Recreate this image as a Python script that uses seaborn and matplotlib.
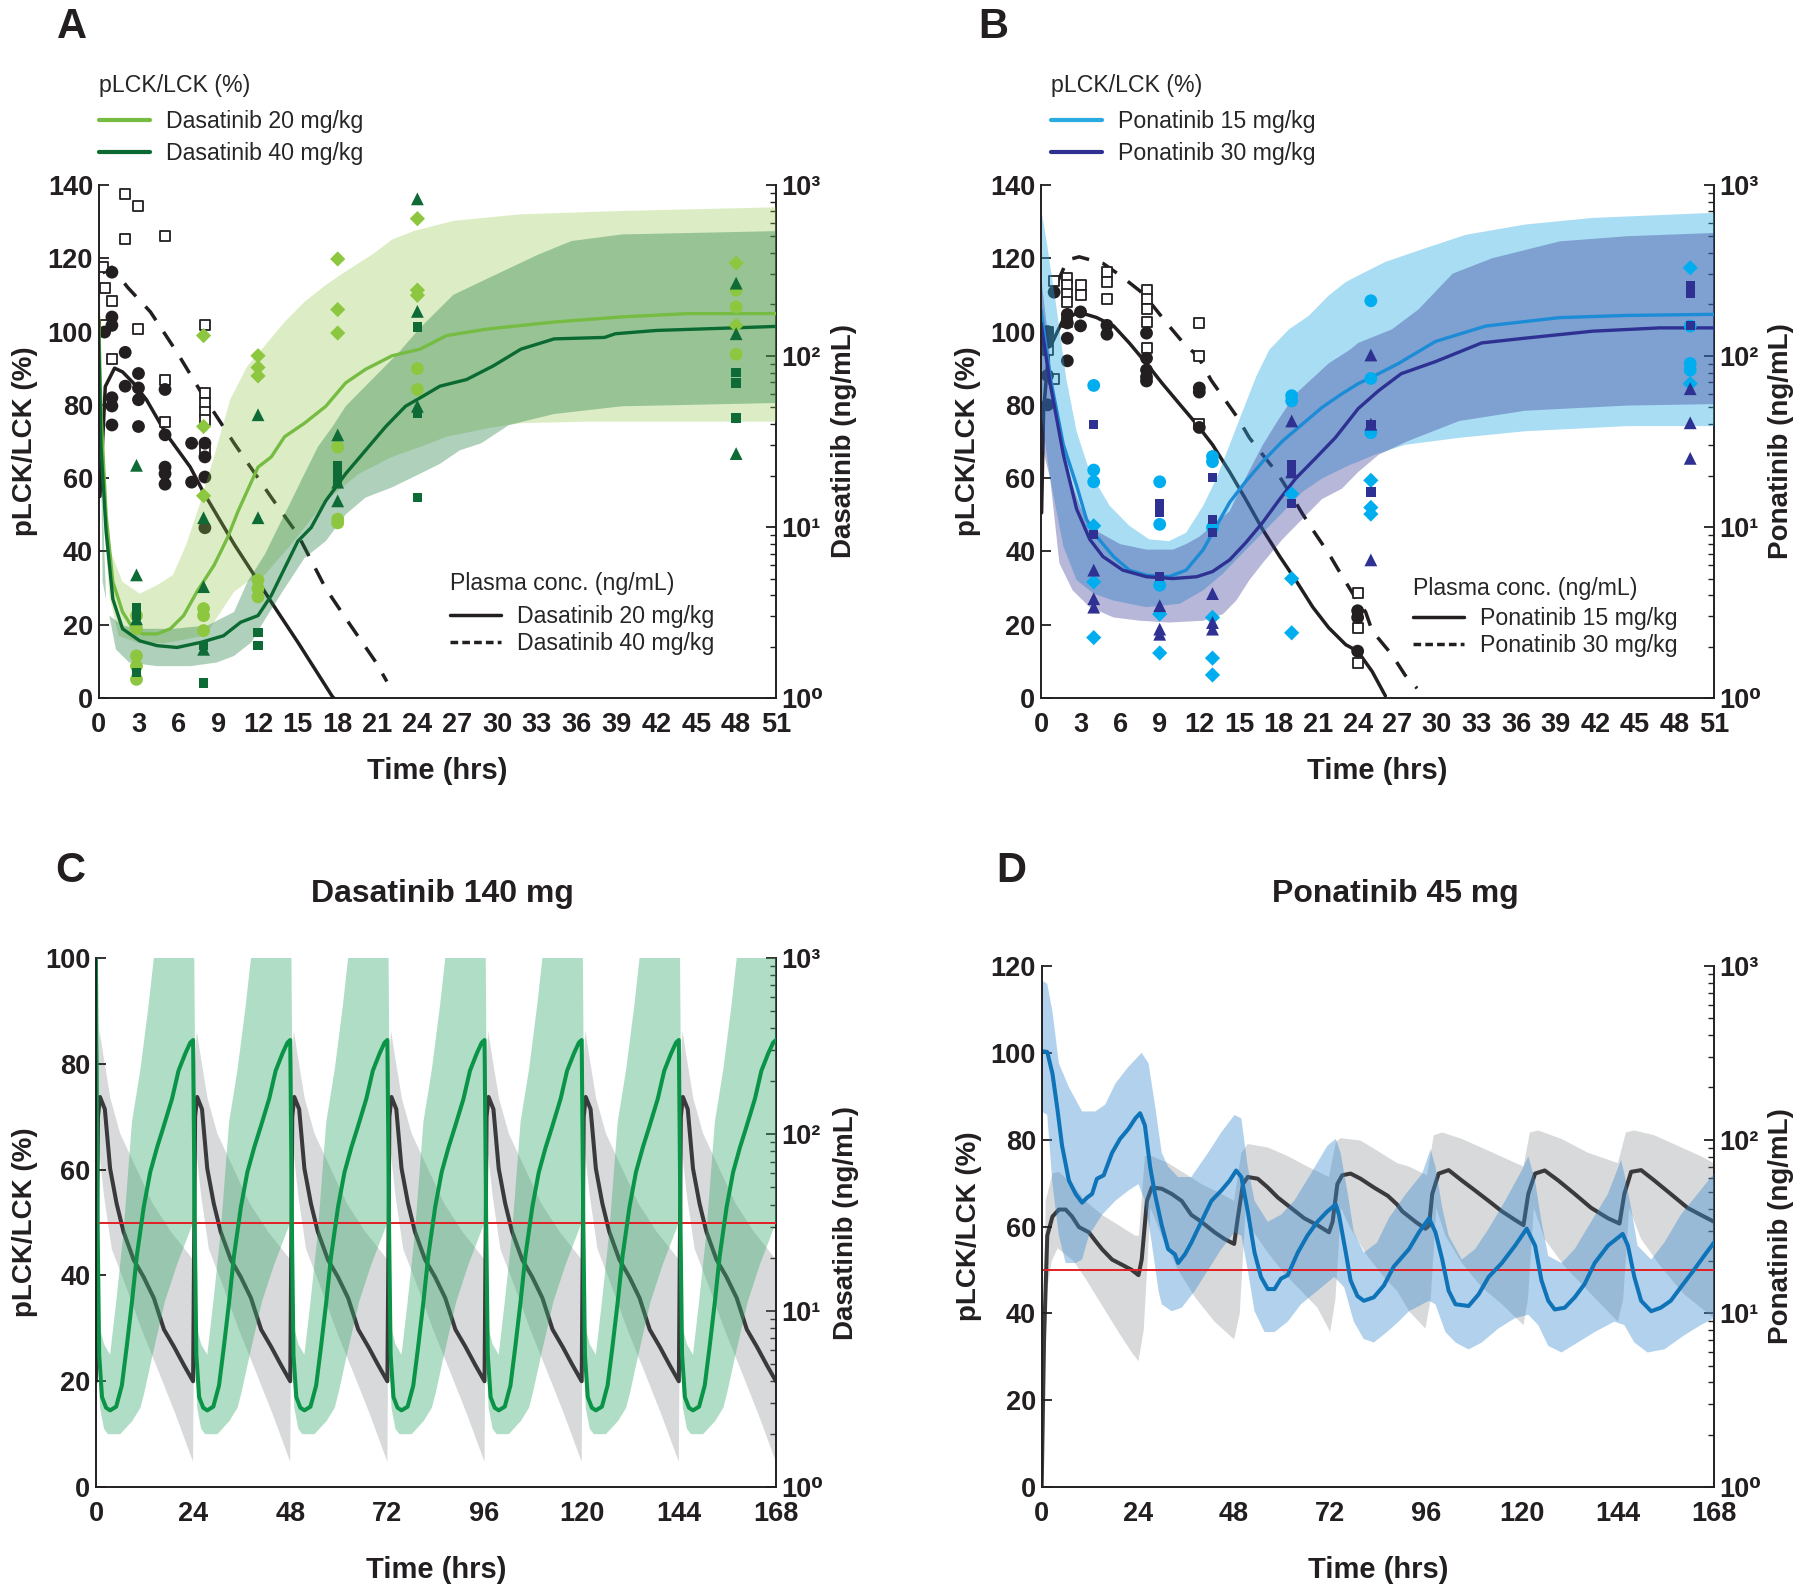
import numpy as np
import matplotlib
matplotlib.use("Agg")
import matplotlib.pyplot as plt
from matplotlib.lines import Line2D
from matplotlib.ticker import LogLocator, NullFormatter
import seaborn as sns

# ---------------- Panel A : dasatinib (mouse) ----------------
# pLCK/LCK (%) model median and 90% band, 20 mg/kg
a_line20_t = [0, 0.18, 0.56, 1.07, 1.8, 2.6, 3.35, 4.4, 5.4, 6.4, 7.4, 8.7, 9.7, 10.5, 11.2, 12.0,
              13.0, 14.0, 15.5, 17.1, 18.6, 20.1, 22.1, 24.2, 26.2, 29.3, 34.3, 39.4, 44.4, 51]
a_line20 = [104, 77.7, 50, 31.7, 23.5, 18.9, 17.5, 17.5, 18.9, 22.5, 29, 36.3, 43.7, 51, 56.6, 63,
            65.8, 71.3, 75, 79.6, 86, 89.7, 93.4, 95.2, 98.9, 100.7, 102.6, 104, 104.9, 104.9]
a_hi20_t = [0, 0.3, 0.8, 1.8, 3.1, 4.4, 5.6, 6.6, 7.7, 8.9, 9.9, 11.2, 12.5, 14.0, 15.5, 17.1,
            18.6, 20.6, 22.1, 23.7, 26.7, 31.8, 39.4, 51]
a_hi20 = [138, 59, 41, 31.7, 28.5, 30.8, 33.6, 41.9, 53.8, 68.5, 81.4, 90.6, 96.1, 102.6, 108.1,
          112.7, 116.4, 121, 125.1, 127.4, 130.2, 132, 132.9, 133.9]
a_lo20_t = [0, 0.3, 0.8, 1.5, 3.0, 5.0, 8.0, 10.2, 11.2, 12.5, 14.5, 17.1, 19.6, 22.1, 24.2, 26.2,
            29.3, 31.8, 36.8, 51]
a_lo20 = [92, 55, 28, 17, 15, 15, 17, 29, 31.7, 33.6, 41.9, 53.8, 61.2, 65.8, 68.5, 71.3, 73.6,
          75, 75.4, 75.4]
# 40 mg/kg
a_line40_t = [0, 0.18, 0.56, 1.07, 1.8, 3.1, 4.4, 5.9, 7.7, 9.4, 10.7, 12.0, 13.0, 14.0, 15.0, 16.0,
              17.1, 18.6, 20.1, 21.6, 23.1, 24.2, 25.7, 27.7, 29.7, 31.8, 34.3, 38.1, 38.9, 42.0,
              47.0, 51]
a_line40 = [100, 68.5, 45.5, 27, 18.9, 15.6, 14.3, 13.8, 15.2, 17, 20.7, 22.5, 28, 35.4, 42.8, 46.5,
            53.8, 61.2, 67.6, 74, 79.6, 81.9, 85.1, 86.9, 90.6, 95.2, 98, 98.4, 99.4, 100.3,
            100.9, 101.4]
a_hi40_t = [0, 0.3, 0.8, 1.8, 3.1, 5.6, 8.2, 10.2, 11.2, 12.5, 13.5, 14.5, 15.5, 16.5, 17.6, 18.6,
            19.6, 21.1, 22.6, 24.2, 26.7, 29.3, 33.1, 35.6, 39.4, 51]
a_hi40 = [118, 31.7, 22.5, 19.8, 18.9, 18.9, 19.8, 23.5, 31.7, 39.1, 46.5, 53.8, 61.2, 68.5, 74,
          79.6, 83.3, 88.8, 94.3, 101, 110, 114.5, 121, 124.7, 126.5, 127.4]
a_lo40_t = [0, 0.56, 1.3, 2.3, 4.4, 6.9, 8.9, 10.2, 11.5, 12.7, 14.0, 15.5, 17.1, 18.6, 20.1, 22.1,
            24.2, 25.7, 27.2, 28.8, 30.9, 34.3, 39.4, 51]
a_lo40 = [85, 27, 13.3, 9.7, 8.7, 8.7, 9.7, 11.5, 15.2, 22.5, 29.9, 38.2, 42.8, 50.1, 54.7, 57.5,
          61.2, 63.9, 67.6, 69.5, 74.5, 77.5, 79.6, 80.5]
# observed pLCK/LCK (%)
a_dia20_t = [7.9, 7.9, 7.9, 12, 12, 12, 18, 18, 18, 24, 24, 24, 48, 48]
a_dia20 = [98.9, 74.1, 55.2, 93.4, 90.2, 87.9, 119.8, 106, 99.6, 130.8, 111.3, 109.9, 118.7, 101.7]
a_cir20_t = [2.85, 2.85, 2.85, 2.85, 2.85, 7.9, 7.9, 7.9, 12, 12, 12, 18, 18, 18, 24, 24, 48, 48, 48]
a_cir20 = [22.5, 18.9, 11.5, 8.7, 5.1, 24.4, 22.5, 18.4, 32.2, 29.9, 27.6, 68.5, 48.8, 47.8,
           89.9, 84.2, 111.3, 106.7, 93.8]
a_tri40_t = [2.85, 2.85, 2.85, 7.9, 7.9, 7.9, 12, 12, 18, 18, 18, 24, 24, 24, 48, 48, 48]
a_tri40 = [63.5, 33.6, 21.6, 49.2, 30.4, 13.3, 77.3, 49.2, 71.8, 58.9, 53.8, 136.2, 105.5, 79.6,
           113.2, 99.4, 66.7]
a_sq40_t = [2.85, 2.85, 2.85, 7.9, 7.9, 12, 12, 18, 18, 18, 24, 24, 24, 48, 48, 48]
a_sq40 = [24.8, 22.5, 6.9, 14.3, 4.1, 17.9, 14.3, 63.5, 61.2, 58.9, 101.2, 77.7, 54.7, 88.8, 86,
          76.4]
# plasma concentration (ng/mL)
a_pk20_t = [0.1, 0.5, 1.2, 1.8, 2.6, 3.6, 5.1, 6.9, 7.9, 10.2, 11.7, 13.0, 15.0, 17.6, 18.0]
a_pk20 = [15.1, 66.3, 84.9, 80.7, 69.7, 55.5, 34.9, 22.4, 15.9, 7.94, 5.25, 3.64, 2.12, 1.02, 0.95]
a_pk40_t = [0.3, 1.0, 2.2, 3.9, 5.9, 7.9, 10.2, 13.0, 15.0, 17.1, 18.8, 20.9, 21.7]
a_pk40 = [306, 330, 251, 181, 105, 58.1, 30.9, 14.9, 9.03, 4.37, 2.78, 1.61, 1.25]
a_obs40_t = [2, 3, 2, 5, 0.35, 0.45, 1, 0.45, 3, 1, 5, 5, 8, 8, 8, 8, 8, 8]
a_obs40 = [884, 755, 480, 501, 330, 249, 209, 152, 143, 96, 72, 41, 152, 61, 53, 47, 42, 28]
a_obs20_t = [1, 1, 1, 0.45, 2, 3, 3, 3, 3, 2, 1, 1, 1, 5, 5, 5, 5, 5, 7, 7, 8, 8, 8, 8]
a_obs20 = [309, 169, 151, 138, 105, 79, 65, 55.5, 38.7, 66.6, 57, 51, 39.5, 63.7, 34.6, 22.4,
           20.5, 17.8, 30.9, 18.3, 30.9, 25.7, 19.6, 9.9]

# ---------------- Panel B : ponatinib (mouse) ----------------
b_line15_t = [0, 0.7, 1.7, 2.7, 3.45, 4.2, 5.5, 6.7, 8.0, 9.7, 11.0, 12.3, 13.3, 14.3, 15.5, 16.8,
              18.3, 19.8, 21.3, 22.8, 24.05, 25.1, 27.1, 29.9, 33.7, 39.3, 44.4, 51]
b_line15 = [106, 87.6, 69.1, 58, 48.8, 44.2, 38.6, 34.9, 33.5, 33.1, 34.9, 40.5, 47, 53.4, 59, 64.5,
            70.1, 74.7, 79.3, 83, 85.8, 87.6, 91.3, 97.3, 101.5, 103.8, 104.4, 104.7]
b_hi15_t = [0, 0.43, 1.2, 1.9, 2.7, 3.7, 5.2, 6.7, 8.2, 9.7, 11.0, 12.3, 13.3, 14.3, 15.3, 16.3,
            17.3, 18.8, 20.3, 21.8, 23.1, 24.05, 26.1, 29.1, 32.2, 36.7, 41.8, 51]
b_hi15 = [133.8, 124.6, 106, 87.6, 72.8, 61.7, 52.5, 47, 43.3, 42.8, 45.1, 52.5, 59.9, 69.1, 78.4,
          87.6, 95, 100.6, 104.3, 109.8, 113.5, 115.3, 119, 122.7, 126.4, 129.2, 131, 132.4]
b_lo15_t = [0, 0.7, 1.7, 2.7, 4.0, 5.5, 8.0, 10.5, 12.3, 13.8, 15.3, 16.8, 18.3, 19.8, 21.3, 23.4,
            24.05, 25.3, 27.6, 31.7, 36.7, 44.4, 51]
b_lo15 = [78.4, 59.9, 41.4, 32.2, 28.5, 26.6, 24.8, 25.7, 29.4, 34, 39.6, 45.1, 50.6, 56.2, 59.9,
          63.6, 64.5, 66.4, 69.1, 71, 72.8, 74.2, 74.2]
b_line30_t = [0, 0.7, 1.7, 2.7, 3.7, 4.7, 6.2, 8.0, 10.0, 11.8, 13.0, 14.3, 15.5, 16.8, 18.1, 19.3,
              20.8, 22.3, 24.05, 25.6, 27.3, 29.9, 33.4, 36.7, 41.8, 46.9, 51]
b_line30 = [102.4, 85.8, 66.4, 51.6, 43.3, 38.6, 34.9, 33.1, 32.6, 33.1, 34.5, 37.7, 42.3, 47.9,
            54.3, 59.9, 65.4, 71, 79, 83.9, 88.5, 91.8, 96.9, 98.2, 100.1, 101, 101]
b_hi30_t = [0, 0.5, 1.0, 2.0, 3.0, 4.0, 6.0, 8.0, 10.0, 11.0, 12.0, 13.0, 14.3, 15.5, 16.8, 18.0,
            19.3, 21.8, 23.4, 24.05, 26.6, 28.6, 31.2, 34.2, 39.3, 44.4, 51]
b_hi30 = [115, 100, 80, 62, 52, 46, 42, 40.5, 40.5, 42, 44, 47, 51, 60, 69, 76, 83, 91.3, 95, 96.9,
          100.6, 106, 115.8, 120, 124.6, 126, 126.9]
b_lo30_t = [0, 0.7, 1.4, 2.4, 3.7, 5.5, 7.5, 9.7, 12.3, 13.8, 14.8, 15.8, 16.8, 18.3, 19.8, 21.3,
            22.8, 24.05, 25.6, 27.8, 31.7, 36.7, 44.4, 51]
b_lo30 = [70, 59.9, 36.8, 29.4, 24.8, 22, 21.1, 20.6, 21.1, 22.9, 26.6, 32.2, 36.8, 43.3, 48.8,
          54.3, 57.1, 61.7, 66.4, 70.1, 75.6, 78.4, 79.8, 80.2]
b_cir15_t = [4, 4, 4, 9, 9, 9, 13, 13, 13, 19, 19, 25, 25, 25, 49.2, 49.2, 49.2]
b_cir15 = [85.3, 62.2, 59, 59, 47.4, 30.8, 65.9, 64.5, 46.5, 82.5, 81.1, 108.4, 87.2, 72.4, 101.5,
           91.3, 89.5]
b_dia15_t = [4, 4, 4, 9, 9, 13, 13, 13, 19, 19, 19, 25, 25, 25, 49.2, 49.2]
b_dia15 = [47, 31.7, 16.5, 22.9, 12.3, 22, 10.9, 6.3, 55.7, 32.6, 17.8, 59.4, 52, 50.2, 117.4, 85.8]
b_sq30_t = [4, 4, 9, 9, 9, 13, 13, 13, 19, 19, 19, 25, 25, 49.2, 49.2, 49.2]
b_sq30 = [74.7, 44.6, 53, 50.6, 33.1, 60.1, 48.8, 45.1, 63.6, 61.7, 53, 74.7, 56.2, 112.6, 110.3,
          101.7]
b_tri30_t = [4, 4, 4, 9, 9, 9, 13, 13, 13, 19, 19, 25, 25, 25, 49.2, 49.2, 49.2]
b_tri30 = [34.9, 27.1, 24.8, 25.2, 18.8, 17.4, 28.5, 20.6, 18.8, 75.6, 61.7, 93.6, 74.7, 37.7, 84.4,
           75.1, 65.4]
b_pk15_t = [0.05, 0.2, 0.6, 1.7, 2.9, 4.2, 5.5, 6.7, 8.0, 9.2, 10.5, 11.8, 13.0, 14.3, 15.5, 16.8,
            18.1, 19.3, 20.6, 21.8, 23.1, 24.0, 25.1, 26.1]
b_pk15 = [12.1, 47.9, 109, 164, 180, 168, 150, 119, 90.4, 69, 52.4, 39.9, 30.3, 21, 14.6, 9.68,
          6.72, 4.9, 3.4, 2.58, 2.05, 1.88, 1.43, 1.03]
b_pk30_t = [1.2, 2.0, 2.9, 4.7, 6.0, 7.5, 8.5, 9.7, 10.8, 11.9, 12.9, 14.0, 14.9, 15.8, 16.8, 17.9,
            18.9, 19.8, 20.8, 21.8, 22.7, 23.7, 24.6, 25.1, 26.6, 27.6, 28.5]
b_pk30 = [264, 364, 380, 348, 296, 240, 196, 150, 119, 99.4, 72.1, 54.7, 43.6, 33.2, 26.5, 20.7,
          15.7, 12, 9.12, 7.02, 5.35, 4.0, 3.19, 2.47, 1.79, 1.36, 1.14]
b_obs30_t = [1, 2, 2, 2, 2, 2, 3, 3, 5, 5, 5, 8, 8, 8, 8, 8, 12, 12, 12, 24, 24, 24, 0.5, 0.5, 1]
b_obs30 = [273, 286, 259, 231, 207, 159, 259, 228, 311, 271, 216, 244, 216, 188, 159, 112, 155,
           99.8, 39.9, 4.12, 2.58, 1.6, 139, 109, 73.2]
b_obs15_t = [1, 2, 2, 2, 2, 3, 3, 5, 5, 8, 8, 8, 8, 8, 12, 12, 12, 24, 24, 24, 0.5, 0.5, 0.5, 0.5]
b_obs15 = [236, 175, 156, 127, 93.7, 181, 150, 151, 134, 136, 97, 82.8, 75.4, 71.4, 65, 61.5, 38.2,
           3.24, 2.96, 1.88, 139, 120, 76.9, 51.8]

# ---------------- Panel C : dasatinib 140 mg once daily ----------------
c_doses = [0, 24, 48, 72, 96, 120, 144]
c_green_start = 100.0
# one daily cycle (hours after dose) - identical for every day in the figure
c_h_green = [0, 0.4, 0.8, 1.5, 2.5, 3.5, 5.0, 6.4, 7.6, 8.9, 10.1, 11.8, 13.4, 15.1, 16.7, 18.8,
             20.4, 22.1, 23.3, 24.0]
c_green = [84.5, 50, 25, 17, 15, 14.5, 15.2, 19.2, 26.5, 35, 43.7, 52.9, 59.5, 64.2, 68.1, 73.4,
           78.7, 82, 84, 84.5]
c_h_ghi = [0, 0.6, 1.0, 2.0, 3.5, 5.0, 6.8, 8.9, 11.0, 13.0, 14.3, 24.0]
c_ghi = [130, 69, 30, 27, 25, 35, 48, 69, 79, 91, 100, 130]
c_h_glo = [0, 0.4, 1.0, 2.0, 3.0, 6.0, 9.0, 11.0, 12.0, 14.0, 17.0, 20.0, 22.0, 24.0]
c_glo = [50, 30, 15, 11, 10, 10, 12.5, 15, 18, 25, 35, 42, 46, 50]
c_h_pk = [0, 0.5, 1.0, 2.2, 3.5, 5.1, 6.8, 9.3, 11.8, 14.3, 16.8, 19.3, 21.7, 24.0]
c_pk = [3.98, 126, 163, 139, 64, 40.6, 28.1, 19.5, 15.5, 11.8, 7.83, 6.24, 4.93, 3.98]
c_h_pkhi = [0, 0.3, 0.9, 1.9, 3.6, 6.0, 10.0, 14.0, 18.5, 24.0]
c_pkhi = [19.5, 219, 388, 275, 159, 101, 64, 40.6, 28.1, 19.5]
c_h_pklo = [0, 0.3, 0.9, 2.0, 3.9, 7.2, 11.3, 15.5, 19.6, 24.0]
c_pklo = [1.39, 15.8, 76.6, 44.7, 22.4, 14.2, 7.83, 4.51, 2.61, 1.39]

# ---------------- Panel D : ponatinib 45 mg once daily ----------------
d_blue_t = [0.0, 1.4, 2.7, 3.9, 5.1, 6.8, 8.5, 10.1, 11.4, 12.6, 13.8, 15.5, 17.6, 19.6, 21.7, 23.4,
            24.6, 25.8, 27.1, 28.3, 30.0, 31.6, 33.3, 34.1, 35.8, 37.4, 39.9, 42.4, 44.9, 47.0,
            48.6, 49.9, 51.5, 53.2, 54.8, 56.5, 58.2, 59.8, 61.5, 64.0, 66.4, 68.9, 71.4, 73.5,
            74.3, 76.0, 77.2, 78.9, 80.5, 83.0, 85.5, 88.0, 91.8, 94.3, 96.8, 98.4, 100.1, 101.7,
            103.4, 106.7, 109.2, 111.7, 115.0, 118.3, 121.2, 123.3, 124.9, 126.6, 128.2, 130.7,
            133.2, 135.7, 138.2, 141.5, 145.2, 146.5, 148.1, 149.8, 152.3, 154.7, 157.2, 159.7,
            163.0, 165.5, 168.0]
d_blue = [100.4, 100.2, 95.2, 87.3, 78.6, 70.6, 67.5, 65.5, 66.7, 67.5, 71.0, 71.8, 77.0, 80.2,
          82.5, 84.9, 86.1, 83.3, 73.8, 67.5, 60.3, 54.8, 53.6, 51.6, 53.6, 56.3, 61.1, 65.9, 68.3,
          70.6, 72.9, 71.4, 63.5, 54.0, 48.4, 45.6, 45.6, 48.0, 48.8, 54.0, 57.9, 61.1, 63.5, 65.1,
          62.7, 54.0, 47.6, 44.0, 42.9, 43.7, 46.4, 50.8, 54.8, 58.7, 61.9, 58.7, 52.4, 45.2, 42.1,
          41.7, 44.4, 48.4, 51.6, 55.6, 59.5, 55.6, 47.6, 42.9, 40.9, 41.3, 43.7, 46.8, 51.6, 55.6,
          58.3, 55.6, 48.4, 42.9, 40.5, 41.3, 42.9, 46.0, 50.0, 53.2, 56.3]
d_bhi_t = [0.0, 1.4, 2.7, 4.3, 6.8, 10.1, 13.4, 15.9, 18.4, 21.7, 25.0, 26.7, 28.3, 30.0, 31.6,
           34.1, 37.4, 41.6, 44.9, 48.2, 49.9, 51.5, 53.2, 56.5, 59.8, 63.1, 67.3, 71.4, 73.5,
           74.7, 76.8, 78.0, 80.5, 83.8, 86.8, 91.0, 95.1, 97.2, 98.4, 100.1, 101.7, 105.0, 108.3,
           111.7, 115.8, 120.0, 121.6, 123.3, 124.9, 126.6, 129.9, 133.2, 137.3, 141.5, 144.8,
           145.6, 147.3, 148.9, 152.3, 155.6, 159.7, 163.9, 168.0]
d_bhi = [116.7, 115.9, 109.5, 97.6, 92.1, 86.5, 86.5, 88.1, 92.9, 96.8, 100.0, 97.6, 88.1, 77.0,
         73.8, 71.4, 71.4, 77.0, 81.7, 85.7, 84.9, 73.8, 65.9, 61.1, 62.7, 65.9, 72.2, 78.6, 80.2,
         77.0, 65.9, 58.7, 54.0, 56.3, 62.0, 67.5, 72.2, 77.8, 73.8, 64.3, 57.9, 52.4, 54.8, 59.5,
         65.9, 73.0, 76.2, 70.6, 61.1, 53.2, 51.6, 54.8, 61.1, 67.5, 75.4, 72.2, 64.3, 55.6, 52.4,
         56.3, 62.7, 67.5, 72.2]
d_blo_t = [0.0, 1.4, 2.7, 4.3, 6.0, 8.5, 10.1, 11.8, 15.1, 18.4, 21.7, 24.2, 25.8, 27.5, 29.2,
           30.0, 32.5, 35.0, 38.3, 41.6, 44.9, 48.2, 49.9, 51.5, 53.2, 55.7, 58.2, 61.5, 64.8,
           68.9, 73.1, 75.6, 78.0, 80.5, 83.0, 86.3, 89.2, 91.8, 96.8, 98.4, 100.9, 103.4, 106.7,
           110.0, 114.1, 118.3, 121.6, 124.1, 126.6, 129.9, 134.0, 138.2, 143.1, 145.6, 148.1,
           151.4, 155.6, 160.5, 164.7, 168.0]
d_blo = [86.5, 85.7, 69.8, 57.9, 51.6, 51.6, 52.4, 57.9, 62.7, 65.9, 68.3, 69.8, 65.9, 56.3, 45.2,
         42.1, 40.5, 41.3, 45.2, 50.0, 54.8, 58.7, 57.9, 50.0, 40.5, 35.7, 35.7, 38.1, 42.1, 45.2,
         48.4, 46.0, 38.1, 34.1, 33.3, 35.7, 38.1, 40.5, 42.9, 42.1, 35.7, 33.3, 31.7, 33.3, 36.5,
         38.9, 39.7, 37.3, 32.5, 31.0, 33.3, 35.7, 38.1, 37.3, 33.3, 31.0, 31.7, 34.9, 37.3, 38.9]
d_pk_t = [0.0, 0.6, 1.4, 2.7, 4.3, 6.0, 7.6, 9.3, 11.8, 13.4, 15.1, 17.6, 20.0, 22.5, 24.2, 25.0,
          26.3, 27.5, 30.0, 32.5, 35.0, 37.4, 39.9, 43.2, 45.7, 48.1, 49.0, 50.3, 51.5, 54.0, 56.5,
          59.0, 62.3, 65.6, 68.9, 71.8, 72.7, 73.9, 75.1, 77.2, 79.7, 83.0, 86.5, 88.8, 90.1, 93.4,
          95.9, 96.8, 97.6, 99.2, 101.7, 105.0, 108.3, 111.7, 115.0, 118.3, 120.4, 121.6, 123.3,
          125.7, 129.1, 133.2, 137.3, 141.5, 144.4, 145.6, 147.3, 149.8, 153.1, 157.2, 161.4,
          164.7, 168.0]
d_pk = [1.0, 7.08, 28.0, 36.1, 39.6, 39.6, 36.1, 31.4, 29.3, 26.2, 23.4, 20.4, 19.1, 17.8, 16.6,
        20.4, 44.4, 53.1, 52.2, 48.7, 44.4, 36.9, 33.7, 29.3, 26.8, 25.1, 35.3, 55.6, 61.0, 59.6,
        53.1, 46.5, 40.5, 35.3, 32.2, 29.3, 33.7, 55.6, 62.4, 63.8, 59.6, 53.1, 47.5, 42.4, 38.7,
        33.7, 30.7, 32.0, 48.7, 63.8, 66.8, 58.2, 51.0, 44.4, 38.7, 34.5, 32.2, 48.7, 63.8, 66.5,
        58.2, 48.7, 40.5, 35.3, 32.9, 48.7, 65.3, 66.8, 58.2, 48.7, 40.5, 36.9, 33.7]
d_pkhi_t = [0.0, 1.0, 2.7, 4.3, 7.6, 10.9, 15.1, 19.2, 23.4, 24.3, 25.8, 27.5, 31.6, 35.8, 39.9,
            44.9, 48.1, 49.9, 51.5, 56.5, 61.5, 66.4, 71.8, 73.5, 74.7, 79.7, 84.7, 88.8, 91.8,
            96.3, 98.0, 100.1, 105.0, 110.8, 116.6, 120.4, 122.0, 124.1, 129.9, 136.5, 144.0,
            146.0, 148.1, 153.1, 158.9, 164.7, 168.0]
d_pkhi = [1.0, 44.4, 63.8, 65.3, 55.6, 44.4, 36.9, 32.2, 28.0, 28.0, 80.4, 80.4, 73.3, 63.8, 55.6,
          48.7, 44.4, 84.1, 94.4, 90.2, 80.4, 70.0, 61.0, 96.6, 102, 98.9, 84.1, 73.3, 70.0, 62.4,
          106, 110, 101, 88.1, 76.7, 70.0, 110, 113, 101, 84.1, 73.3, 110, 113, 106, 92.3, 80.4,
          73.3]
d_pklo_t = [0.0, 1.0, 2.5, 4.0, 8.0, 11.0, 15.0, 19.0, 22.5, 24.2, 25.5, 27.2, 30.0, 34.1, 38.3,
            43.2, 48.1, 49.5, 51.0, 52.4, 56.5, 60.6, 64.8, 68.9, 72.1, 73.4, 74.8, 77.2, 81.4,
            85.5, 88.8, 91.8, 95.9, 97.2, 98.6, 100.9, 105.0, 110.0, 115.0, 120.4, 121.5, 123.0,
            125.7, 130.7, 136.5, 144.0, 145.3, 146.8, 149.8, 154.7, 160.5, 168.0]
d_pklo = [1.0, 12.0, 20.0, 23.7, 20.0, 15.8, 11.2, 7.94, 5.96, 5.31, 8.0, 40.5, 28.0, 17.8, 12.4,
          8.96, 7.08, 10.0, 40.5, 30.7, 22.4, 17.0, 13.5, 10.8, 7.81, 12.0, 40.5, 30.7, 21.4, 16.2,
          13.5, 10.3, 8.17, 12.0, 40.5, 28.0, 19.5, 14.1, 11.3, 8.56, 12.0, 40.5, 26.8, 18.6, 13.5,
          8.96, 12.0, 40.5, 26.8, 18.6, 12.9, 9.39]

# ---------------- style ----------------
sns.set_theme(style="white")
plt.rcParams["font.family"] = ["Liberation Sans", "DejaVu Sans"]
plt.rcParams["axes.edgecolor"] = "#231F20"
INK = "#231F20"
SUP = ["10\u2070", "10\u00b9", "10\u00b2", "10\u00b3"]

LG, DG = "#8DC63F", "#0E6B36"
LG_LINE, DG_LINE = "#76BC43", "#0B6A32"
CY, NV = "#00AEEF", "#2E3192"
CY_LINE = "#1D8CD6"
C_GREEN, C_BAND = "#0A9447", "#3AAA6E"
D_BLUE, D_BAND = "#0F73B8", "#3C8DD0"
GREY = "#7F8285"
RED = "#E31E24"
TICK_FS = 19.5
LAB_FS = 20


def band(ax, t_hi, hi, t_lo, lo, color, alpha):
    ax.fill(list(t_hi) + list(t_lo)[::-1], list(hi) + list(lo)[::-1],
            color=color, alpha=alpha, lw=0, zorder=1)


def line(ax, t, y, color, lw, ls="-"):
    sns.lineplot(x=t, y=y, ax=ax, color=color, lw=lw, linestyle=ls,
                 estimator=None, sort=False, zorder=2)


def dots(ax, t, y, marker, color, s, edge="none", lw=0.0):
    sns.scatterplot(x=t, y=y, ax=ax, marker=marker, color=color, s=s,
                    edgecolor=edge, linewidth=lw, zorder=3)


def frame(ax, ax2, xmax, xstep, ymax, left_label, right_label, lx, rx, xly):
    ax.set_xlim(0, xmax)
    ax.set_ylim(0, ymax)
    xt = list(range(0, xmax + 1, xstep))
    yt = list(range(0, ymax + 1, 20))
    ax.set_xticks(xt, labels=[str(v) for v in xt], fontsize=TICK_FS, fontweight="bold")
    ax.set_yticks(yt, labels=[str(v) for v in yt], fontsize=TICK_FS, fontweight="bold")
    ax2.set_yticks([1, 10, 100, 1000], labels=SUP, fontsize=TICK_FS, fontweight="bold")
    ax2.yaxis.set_minor_locator(LogLocator(base=10, subs=range(2, 10)))
    ax2.yaxis.set_minor_formatter(NullFormatter())
    ax2.set_ylim(1, 1000)
    for a in (ax, ax2):
        a.grid(False)
        a.spines["top"].set_visible(False)
    ax.spines["right"].set_visible(False)
    for s in ("left", "bottom"):
        ax.spines[s].set_linewidth(1.4)
        ax2.spines[s].set_visible(False)
    ax2.spines["right"].set_linewidth(1.4)
    ax.tick_params(axis="x", direction="in", length=7, width=1.3, colors=INK, pad=10)
    ax.tick_params(axis="y", direction="in", length=7, width=1.3, colors=INK, pad=4)
    ax2.tick_params(axis="y", which="major", direction="in", length=7, width=1.3, colors=INK, pad=4)
    ax2.tick_params(axis="y", which="minor", direction="in", length=4, width=1.0, colors=INK)
    ax.set_xlabel("Time (hrs)", fontsize=21, fontweight="bold", color=INK)
    ax.xaxis.label.set_va("center")
    ax.xaxis.set_label_coords(0.5, xly)
    ax.set_ylabel(left_label, fontsize=LAB_FS, fontweight="bold", color=INK)
    ax.yaxis.label.set_va("center")
    ax.yaxis.set_label_coords(lx, 0.5)
    ax2.set_ylabel(right_label, fontsize=LAB_FS, fontweight="bold", color=INK, rotation=90)
    ax2.yaxis.label.set_va("center")
    ax2.yaxis.set_label_coords(rx, 0.5)
    # colour layer above the concentration layer
    ax.set_zorder(ax2.get_zorder() + 1)
    ax.patch.set_visible(False)


fig = plt.figure(figsize=(18, 15.93), dpi=100)

# ---- A ----
axA = fig.add_axes([0.0548, 0.5618, 0.3763, 0.3221])
axA2 = axA.twinx()
axA2.set_yscale("log")
axA2.set_ylim(1, 1000)
line(axA2, a_pk20_t, a_pk20, INK, 2.5)
line(axA2, a_pk40_t, a_pk40, INK, 2.5, ls=(0, (5, 4)))
dots(axA2, a_obs40_t, a_obs40, "s", "white", 55, edge=INK, lw=1.3)
dots(axA2, a_obs20_t, a_obs20, "o", INK, 85)
band(axA, a_hi20_t, a_hi20, a_lo20_t, a_lo20, LG, 0.3)
band(axA, a_hi40_t, a_hi40, a_lo40_t, a_lo40, "#1B7A3E", 0.35)
line(axA, a_line20_t, a_line20, LG_LINE, 2.4)
line(axA, a_line40_t, a_line40, DG_LINE, 2.4)
dots(axA, a_dia20_t, a_dia20, "D", LG, 60)
dots(axA, a_cir20_t, a_cir20, "o", LG, 85)
dots(axA, a_tri40_t, a_tri40, "^", DG, 85)
dots(axA, a_sq40_t, a_sq40, "s", DG, 45)
frame(axA, axA2, 51, 3, 140, "pLCK/LCK (%)", "Dasatinib (ng/mL)", -0.109, 1.10, -0.142)

# ---- B ----
axB = fig.add_axes([0.5783, 0.5618, 0.3739, 0.3221])
axB2 = axB.twinx()
axB2.set_yscale("log")
axB2.set_ylim(1, 1000)
line(axB2, b_pk15_t, b_pk15, INK, 2.5)
line(axB2, b_pk30_t, b_pk30, INK, 2.5, ls=(0, (5, 4)))
dots(axB2, b_obs30_t, b_obs30, "s", "white", 55, edge=INK, lw=1.3)
dots(axB2, b_obs15_t, b_obs15, "o", INK, 85)
band(axB, b_hi15_t, b_hi15, b_lo15_t, b_lo15, "#29ABE2", 0.4)
band(axB, b_hi30_t, b_hi30, b_lo30_t, b_lo30, NV, 0.35)
line(axB, b_line15_t, b_line15, CY_LINE, 2.4)
line(axB, b_line30_t, b_line30, NV, 2.4)
dots(axB, b_dia15_t, b_dia15, "D", CY, 60)
dots(axB, b_cir15_t, b_cir15, "o", CY, 85)
dots(axB, b_tri30_t, b_tri30, "^", NV, 85)
dots(axB, b_sq30_t, b_sq30, "s", NV, 45)
frame(axB, axB2, 51, 3, 140, "pLCK/LCK (%)", "Ponatinib (ng/mL)", -0.108, 1.099, -0.142)

# ---- C ----
c_t_green = np.concatenate([d + np.array(c_h_green) for d in c_doses])
c_y_green = np.concatenate([c_green for d in c_doses])
c_y_green[0] = c_green_start
c_t_ghi = np.concatenate([d + np.array(c_h_ghi) for d in c_doses])
c_y_ghi = np.concatenate([c_ghi for d in c_doses])
c_t_glo = np.concatenate([d + np.array(c_h_glo) for d in c_doses])
c_y_glo = np.concatenate([c_glo for d in c_doses])
c_t_pk = np.concatenate([d + np.array(c_h_pk) for d in c_doses])
c_y_pk = np.concatenate([c_pk for d in c_doses])
c_t_pkhi = np.concatenate([d + np.array(c_h_pkhi) for d in c_doses])
c_y_pkhi = np.concatenate([c_pkhi for d in c_doses])
c_t_pklo = np.concatenate([d + np.array(c_h_pklo) for d in c_doses])
c_y_pklo = np.concatenate([c_pklo for d in c_doses])

axC = fig.add_axes([0.0533, 0.0665, 0.3778, 0.3321])
axC2 = axC.twinx()
axC2.set_yscale("log")
axC2.set_ylim(1, 1000)
band(axC2, c_t_pkhi, c_y_pkhi, c_t_pklo, c_y_pklo, GREY, 0.3)
line(axC2, c_t_pk, c_y_pk, "#3A3A3C", 2.9)
band(axC, c_t_ghi, c_y_ghi, c_t_glo, c_y_glo, C_BAND, 0.4)
axC.axhline(50, color=RED, lw=1.4, zorder=2)
line(axC, c_t_green, c_y_green, C_GREEN, 2.9)
frame(axC, axC2, 168, 24, 100, "pLCK/LCK (%)", "Dasatinib (ng/mL)", -0.105, 1.103, -0.157)

# ---- D ----
axD = fig.add_axes([0.5787, 0.0665, 0.3735, 0.3271])
axD2 = axD.twinx()
axD2.set_yscale("log")
axD2.set_ylim(1, 1000)
band(axD2, d_pkhi_t, d_pkhi, d_pklo_t, d_pklo, GREY, 0.3)
line(axD2, d_pk_t, d_pk, "#3A3A3C", 2.9)
band(axD, d_bhi_t, d_bhi, d_blo_t, d_blo, D_BAND, 0.4)
axD.axhline(50, color=RED, lw=1.4, zorder=2)
line(axD, d_blue_t, d_blue, D_BLUE, 2.9)
frame(axD, axD2, 168, 24, 120, "pLCK/LCK (%)", "Ponatinib (ng/mL)", -0.108, 1.099, -0.16)

# ---- legends ----
LEG_FS = 16.7
leg_kw = dict(loc="upper left", frameon=False, fontsize=LEG_FS, title_fontsize=LEG_FS,
              handlelength=2.2, handletextpad=0.7, borderpad=0,
              borderaxespad=0, alignment="left", bbox_transform=fig.transFigure)


def legend(handles, labels, title, anchor, spacing, title_gap):
    leg = fig.legend(handles=handles, labels=labels, title=title, bbox_to_anchor=anchor,
                     labelspacing=spacing, **leg_kw)
    leg._legend_box.sep = title_gap  # room between the title and the entries (points)
    return leg


legend([Line2D([0], [0], color=LG_LINE, lw=3), Line2D([0], [0], color=DG_LINE, lw=3)],
       ["Dasatinib 20 mg/kg", "Dasatinib 40 mg/kg"], "pLCK/LCK (%)", (0.055, 0.9538), 0.38, 9.6)
legend([Line2D([0], [0], color="#29ABE2", lw=3), Line2D([0], [0], color=NV, lw=3)],
       ["Ponatinib 15 mg/kg", "Ponatinib 30 mg/kg"], "pLCK/LCK (%)", (0.584, 0.9538), 0.38, 9.6)
legend([Line2D([0], [0], color=INK, lw=2.5), Line2D([0], [0], color=INK, lw=2.5, ls=(0, (2.2, 1.2)))],
       ["Dasatinib 20 mg/kg", "Dasatinib 40 mg/kg"], "Plasma conc. (ng/mL)", (0.25, 0.641), 0.18, 7.5)
legend([Line2D([0], [0], color=INK, lw=2.5), Line2D([0], [0], color=INK, lw=2.5, ls=(0, (2.2, 1.2)))],
       ["Ponatinib 15 mg/kg", "Ponatinib 30 mg/kg"], "Plasma conc. (ng/mL)", (0.785, 0.638), 0.18, 5.5)

# ---- panel letters and titles ----
for x, y, s in [(0.040, 0.983, "A"), (0.552, 0.983, "B"), (0.039, 0.453, "C"), (0.562, 0.453, "D")]:
    fig.text(x, y, s, fontsize=30, fontweight="bold", ha="center", va="center", color=INK)
fig.text(0.246, 0.4388, "Dasatinib 140 mg", fontsize=23, fontweight="bold", ha="center",
         va="center", color=INK)
fig.text(0.775, 0.4388, "Ponatinib 45 mg", fontsize=23, fontweight="bold", ha="center",
         va="center", color=INK)

fig.savefig("out.png", dpi=100)
